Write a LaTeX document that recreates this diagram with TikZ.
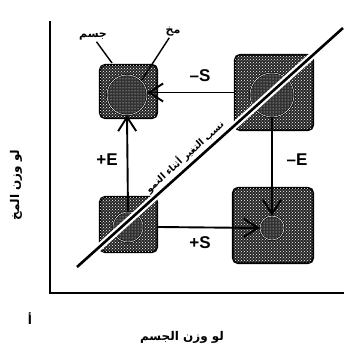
\documentclass[tikz,border=0pt]{standalone}
\usepackage{fontspec}
\setmainfont{Liberation Sans}
\newfontfamily\arabicfont[Script=Arabic]{DejaVu Sans}
\TeXXeTstate=1
\usetikzlibrary{arrows.meta,patterns}
\tikzset{
  >={Straight Barb[length=14pt,width=18pt]},
  body/.style={draw=black, line width=2.2pt, rounded corners=5pt, fill=black!85,
               postaction={pattern=crosshatch dots, pattern color=white}, inner sep=0pt},
  brain/.style={circle, draw=black, line width=0.7pt, double=white, double distance=0.5pt,
                fill=black!80, postaction={pattern=dots, pattern color=white}, inner sep=0pt},
  flow/.style={->, line width=1.9pt, draw=black},
  axis/.style={line width=2.6pt, draw=black, line cap=rect},
  sgn/.style={font=\bfseries\fontsize{17}{17}\selectfont},
  ar/.style={font=\arabicfont\bfseries\fontsize{#1}{#1}\selectfont, inner sep=1pt},
  lead/.style={line width=1.4pt, draw=black},
}

\begin{document}
\begin{tikzpicture}[x=1pt, y=1pt]
  \useasboundingbox[fill=white] (0,0) rectangle (344,352);
  % axes
  \coordinate (ytop) at (50,330);
  \coordinate (orig) at (50,59);
  \coordinate (xend) at (344,59);
  \draw[axis] (ytop) -- (orig) -- (xend);
  % cells: body with brain inside
  \node[body, minimum width=57pt, minimum height=53pt] (tlbody) at (128.5,260.5) {};
  \node[body, minimum width=78pt, minimum height=75pt] (trbody) at (274,259.5) {};
  \node[body, minimum width=57pt, minimum height=55pt] (blbody) at (128.5,127.5) {};
  \node[body, minimum width=80pt, minimum height=75pt] (brbody) at (273,126.5) {};
  \node[brain, minimum size=40pt] (tlbrain) at (127,257) {};
  \node[brain, minimum size=44pt] (trbrain) at (272,257) {};
  \node[brain, minimum size=30pt] (blbrain) at (128,125) {};
  \node[brain, minimum size=24pt] (brbrain) at (272,124) {};
  % growth line
  \coordinate (gstart) at (77,85);
  \coordinate (gend) at (343,324);
  \draw[white, line width=7pt] (gstart) -- (gend);
  \draw[black, line width=2.6pt] (gstart) -- (gend)
    node[ar=9.5, sloped, above=2pt, pos=0.43] (glbl) {\beginR نسب التغير أثناء النمو\endR};
  % shifts
  \draw[flow] (trbody.west) -- (tlbrain.east |- trbody.west);
  \draw[flow] (blbrain.north) -- (tlbrain.south);
  \draw[flow] (trbrain.south) -- (brbrain.north);
  \draw[flow] (blbody.east |- blbrain) -- (brbrain.west);
  \node[sgn] (mS) at (200,276) {\textendash S};
  \node[sgn] (pE) at (107,192) {+E};
  \node[sgn] (mE) at (297,192) {\textendash E};
  \node[sgn] (pS) at (200,109) {+S};
  % labels
  \node[ar=11] (bodylbl) at (93,315) {\beginR جسم\endR};
  \node[ar=11] (brainlbl) at (173,320) {\beginR مخ\endR};
  \draw[lead] (bodylbl) -- (112,289);
  \draw[lead] (brainlbl) -- (tlbrain.north east);
  \node[ar=12, rotate=90] (ylbl) at (16,167) {\beginR لو وزن المخ\endR};
  \node[ar=12] (xlbl) at (182,15) {\beginR لو وزن الجسم\endR};
  \node[ar=12] (figlbl) at (30,33) {\beginR أ\endR};
\end{tikzpicture}
\end{document}
